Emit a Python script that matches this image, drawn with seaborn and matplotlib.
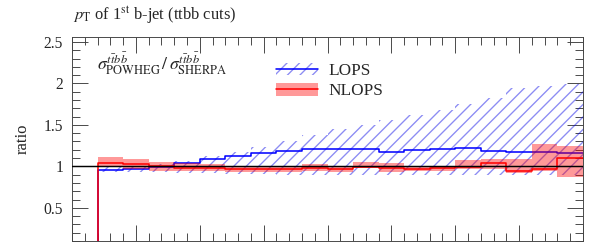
import numpy as np
import pandas as pd
import seaborn as sns
import matplotlib
matplotlib.use("Agg")
import matplotlib.pyplot as plt
from matplotlib.patches import Patch
from matplotlib.lines import Line2D
from matplotlib.ticker import MultipleLocator, FuncFormatter

# bin edges of pT (GeV), 19 bins of 20 GeV
edges = np.arange(20, 401, 20)

# LOPS ratio (central value and hatched band)
lops = [0.955, 0.97, 0.99, 1.045, 1.085, 1.125, 1.165, 1.185, 1.205, 1.205,
        1.205, 1.175, 1.195, 1.205, 1.225, 1.185, 1.175, 1.175, 1.16]
lops_up = [1.0, 1.01, 1.03, 1.07, 1.12, 1.17, 1.23, 1.30, 1.38, 1.45,
           1.50, 1.56, 1.62, 1.68, 1.75, 1.83, 1.95, 1.97, 1.99]
lops_dn = [0.93, 0.93, 0.93, 0.92, 0.92, 0.91, 0.91, 0.90, 0.90, 0.90,
           0.90, 0.90, 0.90, 0.90, 0.90, 0.90, 0.89, 0.89, 0.89]

# NLOPS ratio (central value and filled band)
nlops = [1.04, 1.025, 1.005, 0.985, 0.985, 0.97, 0.97, 0.97, 0.98, 0.97,
         0.99, 0.985, 0.97, 0.985, 0.99, 1.035, 0.945, 0.965, 1.105]
nlops_up = [1.11, 1.085, 1.05, 1.045, 1.03, 1.0, 1.0, 1.0, 1.025, 1.0,
            1.05, 1.035, 1.0, 1.01, 1.075, 1.09, 1.09, 1.27, 1.25]
nlops_dn = [1.0, 0.965, 0.945, 0.945, 0.95, 0.93, 0.93, 0.93, 0.94, 0.93,
            0.985, 0.93, 0.94, 0.95, 0.965, 0.965, 0.925, 0.945, 0.875]

sns.set_style("ticks")
plt.rcParams['font.family'] = ['Liberation Serif', 'DejaVu Serif']
plt.rcParams['mathtext.fontset'] = 'stix'
plt.rcParams['hatch.linewidth'] = 1.3

DPI = 75
fig = plt.figure(figsize=(598 / DPI, 242 / DPI), dpi=DPI)
ax = fig.add_axes([72 / 598, 1 / 242, 511 / 598, 204 / 242])

blue_hatch = (0.0, 0.0, 0.9, 0.45)
red_fill = (1.0, 0.0, 0.0, 0.4)


def step_frame(vals):
    # step line starting from below the axis at the first edge
    x = np.r_[edges[0], edges]
    y = np.r_[0.0, vals, vals[-1]]
    return pd.DataFrame({'x': x, 'y': y})


# LOPS
ax.stairs(lops_up, edges, baseline=lops_dn, fill=True, facecolor='none',
          edgecolor=blue_hatch, hatch='//', lw=0, zorder=1)
sns.lineplot(data=step_frame(lops), x='x', y='y', estimator=None, sort=False,
             drawstyle='steps-post', color='blue', lw=1.5, ax=ax, zorder=2)

# NLOPS
ax.stairs(nlops_up, edges, baseline=nlops_dn, fill=True, color=red_fill,
          lw=0, zorder=3)
sns.lineplot(data=step_frame(nlops), x='x', y='y', estimator=None, sort=False,
             drawstyle='steps-post', color='red', lw=1.5, ax=ax, zorder=4)

ax.axhline(1.0, color='black', lw=1.4, zorder=5)

ax.set_xlim(0, 400)
ax.set_ylim(0.1, 2.56)
ax.xaxis.set_major_locator(MultipleLocator(50))
ax.xaxis.set_minor_locator(MultipleLocator(10))
ax.yaxis.set_major_locator(MultipleLocator(0.5))
ax.yaxis.set_minor_locator(MultipleLocator(0.1))
ax.yaxis.set_major_formatter(FuncFormatter(lambda v, p: '%g' % v))
ax.tick_params(which='both', direction='in', top=True, right=True,
               color='#444444', width=0.9)
ax.tick_params(which='major', length=15)
ax.tick_params(which='minor', length=7.5)
ax.tick_params(axis='y', labelsize=15, pad=8.5)
ax.tick_params(axis='x', labelbottom=False)
for s in ax.spines.values():
    s.set_color('#444444')
    s.set_linewidth(0.9)

ax.set_xlabel('')
ax.set_ylabel('ratio', fontsize=16, labelpad=12)

fig.text(73 / 598, 1 - 20 / 242, r'$p_\mathrm{T}$ of 1$^\mathrm{st}$ b-jet (ttbb cuts)',
         fontsize=15.8, va='baseline', ha='left')

ax.text(0.049, 0.87,
        r'$\sigma^{t\bar{t}b\bar{b}}_\mathrm{POWHEG}\,/\,\sigma^{t\bar{t}b\bar{b}}_\mathrm{SHERPA}$',
        transform=ax.transAxes, fontsize=17, va='center', ha='left')

h_lops = (Patch(facecolor='none', edgecolor=blue_hatch, hatch='//', lw=0),
          Line2D([], [], color='blue', lw=1.5))
h_nlops = (Patch(facecolor=red_fill, lw=0),
           Line2D([], [], color='red', lw=1.5))
ax.legend([h_lops, h_nlops], ['LOPS', 'NLOPS'], loc='upper left',
          bbox_to_anchor=(0.40, 0.875), frameon=False, fontsize=16.5,
          handlelength=2.4, handleheight=0.75, handletextpad=0.65,
          labelspacing=0.25, borderpad=0, borderaxespad=0)

fig.savefig('out.png', dpi=DPI)
